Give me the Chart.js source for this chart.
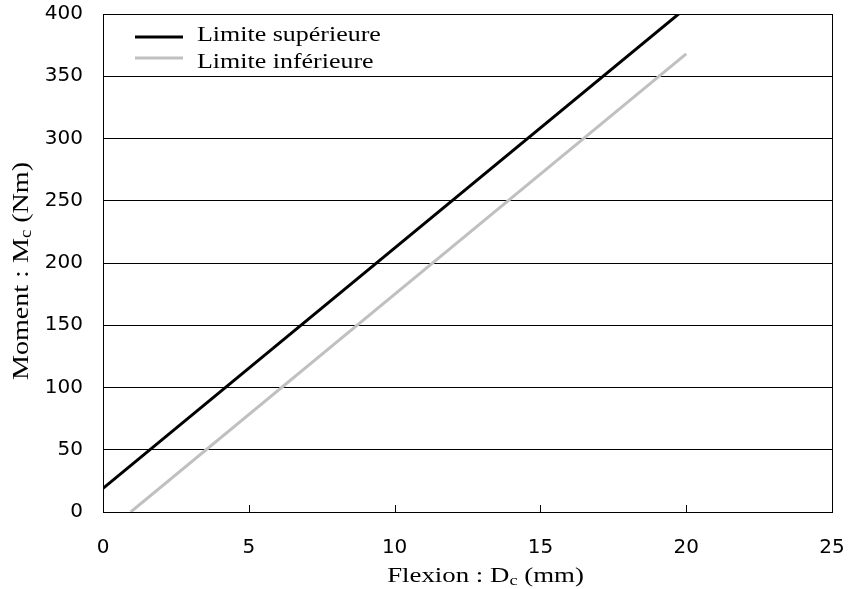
<!DOCTYPE html>
<html>
<head>
<meta charset="utf-8">
<script src="https://cdn.jsdelivr.net/npm/chart.js@4"></script>
<style>
  html, body { margin: 0; padding: 0; background: #fff; }
  #wrap { width: 848px; height: 589px; }
</style>
</head>
<body>
<div id="wrap"><canvas id="chart"></canvas></div>
<script>
// values
const upperX = [0, 20];
const upperY = [19, 405];
const lowerX = [0.95, 20];
const lowerY = [0, 368];
const seriesNames = ["Limite supérieure", "Limite inférieure"];
const xTicks = [0, 5, 10, 15, 20, 25];
const yTicks = [0, 50, 100, 150, 200, 250, 300, 350, 400];

const serif = "'Liberation Serif', 'Times New Roman', serif";
const sans = "'DejaVu Sans', Arial, sans-serif";

// draws text a bit wider than the font, like the original
function wideText(ctx, parts, x, y, size, stretch, align) {
  const big = size + "px " + serif, small = Math.round(size * 0.68) + "px " + serif;
  let w = 0;
  parts.forEach(p => { ctx.font = p[1] ? small : big; w += ctx.measureText(p[0]).width; });
  ctx.save();
  ctx.translate(x, y);
  ctx.scale(stretch, 1);
  let cx = align === "center" ? -w / 2 : 0;
  ctx.textAlign = "left";
  ctx.textBaseline = "alphabetic";
  ctx.fillStyle = "#000";
  parts.forEach(p => {
    ctx.font = p[1] ? small : big;
    ctx.fillText(p[0], cx, p[1] ? 3 : 0);
    cx += ctx.measureText(p[0]).width;
  });
  ctx.restore();
}

// frame, inner x ticks, legend and axis titles with subscripts
const decor = {
  id: "decor",
  afterDraw(chart) {
    const ctx = chart.ctx;
    const a = chart.chartArea;
    const xs = chart.scales.x;
    ctx.save();
    ctx.strokeStyle = "#000";
    ctx.lineWidth = 1;
    ctx.strokeRect(Math.round(a.left) + 0.5, Math.round(a.top) + 0.5,
      Math.round(a.right - a.left), Math.round(a.bottom - a.top));
    xTicks.slice(1, -1).forEach(v => {
      const px = Math.round(xs.getPixelForValue(v)) + 0.5;
      ctx.beginPath();
      ctx.moveTo(px, a.bottom);
      ctx.lineTo(px, a.bottom - 7);
      ctx.stroke();
    });

    // legend
    const lineY = [37, 58];
    const textY = [41, 68];
    chart.data.datasets.forEach((ds, i) => {
      ctx.strokeStyle = ds.borderColor;
      ctx.lineWidth = 3;
      ctx.beginPath();
      ctx.moveTo(135, lineY[i]);
      ctx.lineTo(183, lineY[i]);
      ctx.stroke();
      wideText(ctx, [[ds.label, 0]], 197, textY[i], 22, 1.18, "left");
    });

    // axis titles
    const midX = (a.left + a.right) / 2;
    const midY = (a.top + a.bottom) / 2;
    wideText(ctx, [["Flexion : D", 0], ["c", 1], [" (mm)", 0]], midX + 18, 582, 22, 1.22, "center");
    ctx.save();
    ctx.translate(28, midY + 8);
    ctx.rotate(-Math.PI / 2);
    wideText(ctx, [["Moment : M", 0], ["c", 1], [" (Nm)", 0]], 0, 0, 24, 1.17, "center");
    ctx.restore();
    ctx.restore();
  }
};

new Chart(document.getElementById("chart"), {
  type: "scatter",
  data: {
    datasets: [
      {
        label: seriesNames[0],
        data: upperX.map((x, i) => ({ x: x, y: upperY[i] })),
        showLine: true,
        borderColor: "#000000",
        borderWidth: 3,
        pointRadius: 0
      },
      {
        label: seriesNames[1],
        data: lowerX.map((x, i) => ({ x: x, y: lowerY[i] })),
        showLine: true,
        borderColor: "#c0c0c0",
        borderWidth: 3,
        pointRadius: 0
      }
    ]
  },
  options: {
    responsive: true,
    maintainAspectRatio: false,
    animation: false,
    layout: { padding: { left: 0, right: 16, top: 14, bottom: 0 } },
    plugins: { legend: { display: false }, tooltip: { enabled: false } },
    scales: {
      x: {
        type: "linear",
        min: 0,
        max: 25,
        afterBuildTicks: s => { s.ticks = xTicks.map(v => ({ value: v })); },
        afterFit: s => { s.height = 77; s.paddingLeft = 0; s.paddingRight = 0; },
        grid: { display: false },
        border: { display: true, color: "#000", width: 1 },
        ticks: { color: "#000", font: { family: sans, size: 20 }, padding: 16, maxRotation: 0 }
      },
      y: {
        type: "linear",
        min: 0,
        max: 400,
        afterBuildTicks: s => { s.ticks = yTicks.map(v => ({ value: v })); },
        afterFit: s => { s.width = 103; s.paddingTop = 0; s.paddingBottom = 0; },
        grid: { color: "#000", lineWidth: 1, drawTicks: false },
        border: { display: true, color: "#000", width: 1 },
        ticks: { color: "#000", font: { family: sans, size: 20 }, padding: 20 }
      }
    }
  },
  plugins: [decor]
});
</script>
</body>
</html>
